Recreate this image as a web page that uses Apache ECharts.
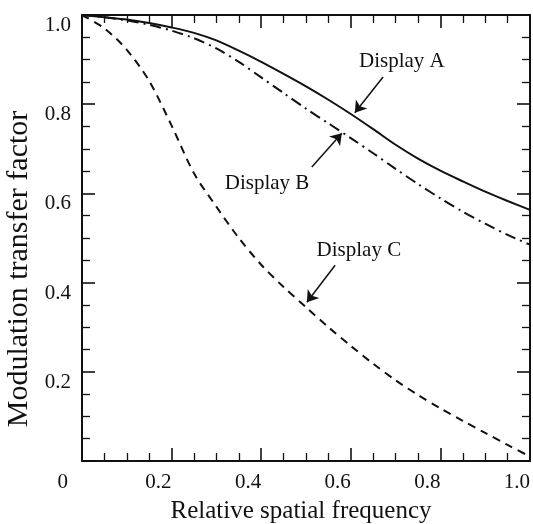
<!DOCTYPE html>
<html>
<head>
<meta charset="utf-8">
<title>Modulation transfer factor</title>
<script src="https://cdn.jsdelivr.net/npm/echarts@6/dist/echarts.min.js"></script>
<style>
  html, body { margin: 0; padding: 0; background: #fff; }
  #chart { width: 533px; height: 524px; }
</style>
</head>
<body>
<div id="chart"></div>
<script>
// Relative spatial frequency sample positions
var freq = [0, 0.05, 0.1, 0.15, 0.2, 0.25, 0.3, 0.35, 0.4, 0.45, 0.5,
            0.55, 0.6, 0.65, 0.7, 0.75, 0.8, 0.85, 0.9, 0.95, 1.0];

// Modulation transfer factor for each display
var displayA = [1.0, 0.995, 0.99, 0.982, 0.972, 0.96, 0.943, 0.92, 0.895, 0.868, 0.84,
                0.81, 0.778, 0.744, 0.709, 0.678, 0.651, 0.627, 0.604, 0.583, 0.563];
var displayB = [1.0, 0.995, 0.988, 0.978, 0.965, 0.948, 0.925, 0.895, 0.86, 0.825, 0.79,
                0.757, 0.724, 0.69, 0.655, 0.621, 0.589, 0.559, 0.532, 0.507, 0.485];
var displayC = [1.0, 0.97, 0.922, 0.852, 0.752, 0.645, 0.57, 0.5, 0.44, 0.39, 0.345,
                0.3, 0.258, 0.218, 0.181, 0.148, 0.118, 0.09, 0.063, 0.036, 0.01];

// Axis tick labels
var xTickLabels = ['0', '0.2', '0.4', '0.6', '0.8', '1.0'];
var yTickLabels = ['', '0.2', '0.4', '0.6', '0.8', '1.0'];

// Callout text anchors and arrows (data coordinates)
var noteA = [0.714, 0.895];
var noteB = [0.413, 0.623];
var noteC = [0.618, 0.473];
var arrowA = [[0.672, 0.861], [0.609, 0.781]];
var arrowB = [[0.513, 0.659], [0.580, 0.735]];
var arrowC = [[0.565, 0.439], [0.502, 0.356]];

var FONT = 'Liberation Serif';
var INK = '#111';

function pairs(xs, ys) {
  return xs.map(function (x, i) { return [x, ys[i]]; });
}

function tickIndex(v) { return Math.round(v / 0.2); }

function axisBase(showLabels) {
  return {
    type: 'value', min: 0, max: 1, interval: 0.2,
    axisLine: { show: true, onZero: false, lineStyle: { color: INK, width: 2 } },
    axisTick: { show: true, inside: true, length: 13, lineStyle: { color: INK, width: 1.6 } },
    minorTick: { show: true, splitNumber: 4, length: 8, lineStyle: { color: INK, width: 1.3 } },
    splitLine: { show: false },
    minorSplitLine: { show: false },
    axisLabel: { show: showLabels }
  };
}

function callout(text, pos, arrow) {
  return {
    markPoint: {
      silent: true,
      symbol: 'circle', symbolSize: 1,
      itemStyle: { color: 'rgba(0,0,0,0)' },
      label: {
        show: true, position: 'inside', formatter: text,
        fontFamily: FONT, fontSize: 21, color: INK
      },
      data: [{ coord: pos }]
    },
    markLine: {
      silent: true,
      symbol: ['none', 'arrow'], symbolSize: 11,
      itemStyle: { color: INK },
      lineStyle: { color: INK, width: 1.5, type: 'solid' },
      label: { show: false },
      data: [[{ coord: arrow[0] }, { coord: arrow[1] }]]
    }
  };
}

var xBottom = axisBase(true);
xBottom.position = 'bottom';
xBottom.name = 'Relative spatial frequency';
xBottom.nameLocation = 'middle';
xBottom.nameGap = 38;
xBottom.nameTextStyle = { fontFamily: FONT, fontSize: 25, color: INK, padding: [0, 10, 0, 0] };
xBottom.axisLabel = {
  show: true, margin: 11, align: 'right',
  fontFamily: FONT, fontSize: 21, color: INK,
  formatter: function (v) {
    var t = xTickLabels[tickIndex(v)];
    return v === 0 ? '{z|' + t + '}' : t;
  },
  rich: { z: { fontFamily: FONT, fontSize: 21, color: INK, padding: [0, 14, 0, 0] } }
};

var xTop = axisBase(false);
xTop.position = 'top';

var yLeft = axisBase(true);
yLeft.position = 'left';
yLeft.name = 'Modulation transfer factor';
yLeft.nameLocation = 'middle';
yLeft.nameGap = 41;
yLeft.nameTextStyle = { fontFamily: FONT, fontSize: 30, color: INK, padding: [0, 62, 0, 0] };
yLeft.axisLabel = {
  show: true, margin: 11, verticalAlign: 'top',
  fontFamily: FONT, fontSize: 21, color: INK,
  formatter: function (v) { return yTickLabels[tickIndex(v)]; }
};

var yRight = axisBase(false);
yRight.position = 'right';

var seriesA = Object.assign({
  name: 'Display A', type: 'line', data: pairs(freq, displayA),
  smooth: 0.3, showSymbol: false, xAxisIndex: 0, yAxisIndex: 0,
  lineStyle: { color: INK, width: 2, type: 'solid' }
}, callout('Display A', noteA, arrowA));

var seriesB = Object.assign({
  name: 'Display B', type: 'line', data: pairs(freq, displayB),
  smooth: 0.3, showSymbol: false, xAxisIndex: 0, yAxisIndex: 0,
  lineStyle: { color: INK, width: 2, type: [11, 5, 2, 5] }
}, callout('Display B', noteB, arrowB));

var seriesC = Object.assign({
  name: 'Display C', type: 'line', data: pairs(freq, displayC),
  smooth: 0.3, showSymbol: false, xAxisIndex: 0, yAxisIndex: 0,
  lineStyle: { color: INK, width: 2, type: [8, 6] }
}, callout('Display C', noteC, arrowC));

var chart = echarts.init(document.getElementById('chart'), null, { renderer: 'canvas' });
chart.setOption({
  animation: false,
  backgroundColor: '#fff',
  grid: {
    left: 82, right: 3, top: 15, bottom: 63,
    containLabel: false, outerBoundsMode: 'none'
  },
  xAxis: [xBottom, xTop],
  yAxis: [yLeft, yRight],
  series: [seriesA, seriesB, seriesC]
});
</script>
</body>
</html>
